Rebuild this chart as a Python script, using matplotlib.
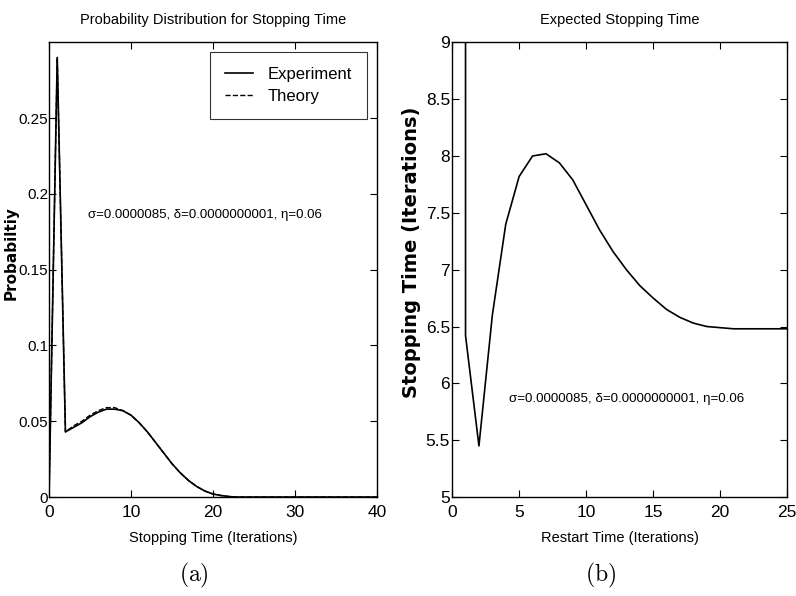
import numpy as np
import matplotlib.pyplot as plt

plt.rcParams['font.family'] = ['Liberation Sans Narrow', 'Liberation Sans', 'DejaVu Sans']
plt.rcParams['mathtext.fontset'] = 'cm'

# (a) stopping time distribution
stop_t = [0, 1, 2, 3, 4, 5, 6, 7, 8, 9, 10, 11, 12, 13, 14, 15, 16, 17, 18, 19,
          20, 21, 22, 23, 24, 25, 30, 35, 40]
prob_exp = [0.0, 0.290, 0.043, 0.046, 0.049, 0.053, 0.056, 0.058, 0.058, 0.057,
            0.054, 0.049, 0.043, 0.036, 0.029, 0.022, 0.016, 0.011, 0.007, 0.004,
            0.002, 0.001, 0.0003, 0.0, 0.0, 0.0, 0.0, 0.0, 0.0]
prob_th = [0.0, 0.290, 0.043, 0.047, 0.050, 0.054, 0.057, 0.059, 0.059, 0.057,
           0.054, 0.049, 0.043, 0.036, 0.029, 0.022, 0.016, 0.011, 0.007, 0.004,
           0.002, 0.001, 0.0003, 0.0, 0.0, 0.0, 0.0, 0.0, 0.0]

# (b) expected stopping time vs restart time
restart = [1, 1, 2, 3, 4, 5, 6, 7, 8, 9, 10, 11, 12, 13, 14, 15, 16, 17, 18, 19,
           20, 21, 22, 23, 24, 25]
exp_stop = [9.6, 6.42, 5.45, 6.6, 7.40, 7.82, 8.00, 8.02, 7.94, 7.79, 7.57, 7.35,
            7.16, 7.00, 6.86, 6.75, 6.65, 6.58, 6.53, 6.50, 6.49, 6.48, 6.48, 6.48,
            6.48, 6.48]

params = '\u03c3=0.0000085, \u03b4=0.0000000001, \u03b7=0.06'

fig = plt.figure(figsize=(7.96, 5.96), dpi=100)
ax1 = fig.add_axes([0.0616, 0.166, 0.412, 0.763])
ax2 = fig.add_axes([0.568, 0.166, 0.421, 0.763])

ax1.plot(stop_t, prob_exp, color='black', lw=1.2, label='Experiment')
ax1.plot(stop_t, prob_th, color='black', lw=1.0, ls='--', label='Theory')
ax1.set_xlim(0, 40)
ax1.set_ylim(0, 0.3)
ax1.set_xticks([0, 10, 20, 30, 40])
ax1.set_yticks([0, 0.05, 0.1, 0.15, 0.2, 0.25])
ax1.set_yticklabels(['0', '0.05', '0.1', '0.15', '0.2', '0.25'])
ax1.set_title('Probability Distribution for Stopping Time', fontsize=10.5, pad=13)
ax1.set_xlabel('Stopping Time (Iterations)', fontsize=10.5)
ax1.set_ylabel('Probabiltiy', fontsize=11, fontweight='bold', family=['DejaVu Sans'])
ax1.yaxis.set_label_coords(-0.094, 0.536)
ax1.xaxis.set_label_coords(0.5, -0.075)
ax1.text(4.8, 0.186, params, fontsize=9.5, va='center')
leg = ax1.legend(loc='upper right', fontsize=12, frameon=True, fancybox=False,
                 edgecolor='black', handlelength=1.7, handletextpad=0.85,
                 borderpad=0.9, labelspacing=0.4, borderaxespad=0.6)
leg.get_frame().set_linewidth(0.8)

ax2.plot(restart, exp_stop, color='black', lw=1.2)
ax2.set_xlim(0, 25)
ax2.set_ylim(5, 9)
ax2.set_xticks([0, 5, 10, 15, 20, 25])
ax2.set_yticks([5, 5.5, 6, 6.5, 7, 7.5, 8, 8.5, 9])
ax2.set_yticklabels(['5', '5.5', '6', '6.5', '7', '7.5', '8', '8.5', '9'])
ax2.set_title('Expected Stopping Time', fontsize=10.5, pad=13)
ax2.set_xlabel('Restart Time (Iterations)', fontsize=10.5)
ax2.set_ylabel('Stopping Time (Iterations)', fontsize=14, fontweight='bold', family=['DejaVu Sans'])
ax2.yaxis.set_label_coords(-0.093, 0.538)
ax2.xaxis.set_label_coords(0.5, -0.075)
ax2.text(4.25, 5.86, params, fontsize=9.6, va='center')

for ax in (ax1, ax2):
    ax.tick_params(direction='in', top=True, right=True, labelsize=12.5, length=5)
    ax.tick_params(axis='x', pad=6)
    ax.tick_params(axis='y', pad=1.5)
    for s in ax.spines.values():
        s.set_linewidth(1.0)
ax1.tick_params(axis='y', labelsize=11, pad=0.5)

fig.text(0.244, 0.035, r'$\mathrm{(a)}$', fontsize=17, ha='center', va='center')
fig.text(0.754, 0.035, r'$\mathrm{(b)}$', fontsize=17, ha='center', va='center')

fig.savefig('out.png', dpi=100)
